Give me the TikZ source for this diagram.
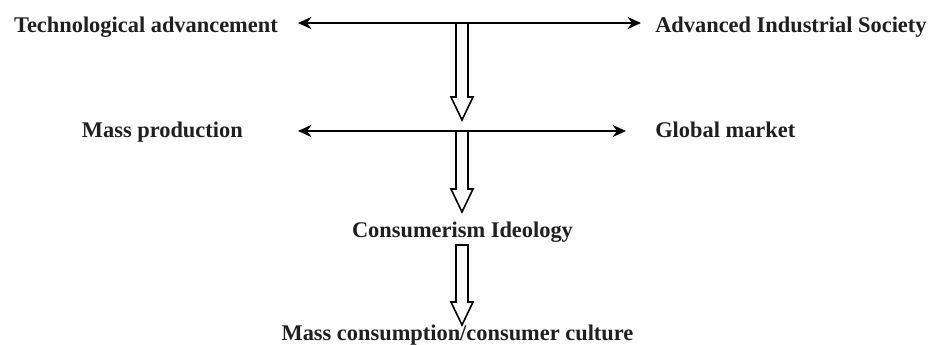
\documentclass[tikz,border=0pt]{standalone}
\usepackage{fontspec}
\setmainfont{Liberation Serif}
\usetikzlibrary{calc,arrows.meta}

\tikzset{
  term/.style={font=\bfseries\fontsize{16.8pt}{19pt}\selectfont, text=black!88, inner sep=0pt},
  link/.style={draw, line width=1.7pt, {Stealth[length=10pt,width=9pt]}-{Stealth[length=10pt,width=9pt]}},
  hollow/.style={draw, line width=1.2pt, line join=miter}
}
% hollow arrow from #1 down to the tip #2
\newcommand{\hollowdown}[2]{%
  \path[hollow]($(#1)+(-6,0)$)--($(#2)+(-6,-23)$)--($(#2)+(-11,-23)$)--(#2)
    --($(#2)+(11,-23)$)--($(#2)+(6,-23)$)--($(#1)+(6,0)$)--cycle;}

\begin{document}
\begin{tikzpicture}[x=0.75pt, y=-0.75pt]
    \useasboundingbox (0,0) rectangle (931,344);
    % first row
    \node[term, anchor=base east](tech)at(278,32){Technological advancement};
    \node[term, anchor=base west](adv)at(655,32){Advanced Industrial Society};
    \coordinate(l1a)at(298,23);
    \coordinate(l1b)at(641,23);
    \path[link](l1a)to(l1b);
    % second row
    \node[term, anchor=base east](mass)at(243,137){Mass production};
    \node[term, anchor=base west](glob)at(655,137){Global market};
    \coordinate(l2a)at(298,131);
    \coordinate(l2b)at(626,131);
    \path[link](l2a)to(l2b);
    % lower terms
    \node[term, anchor=base](ideo)at(462.5,237){Consumerism Ideology};
    \node[term, anchor=base](cult)at(457.5,340){Mass consumption/consumer culture};
    % hollow arrows
    \coordinate(a1)at(l1a -| 462,0);
    \coordinate(t1)at(462,120);
    \coordinate(a2)at(l2a -| 462,0);
    \coordinate(t2)at(462,212);
    \coordinate(a3)at(462,245);
    \coordinate(t3)at(462,325);
    \hollowdown{a1}{t1}
    \hollowdown{a2}{t2}
    \hollowdown{a3}{t3}
\end{tikzpicture}
\end{document}
